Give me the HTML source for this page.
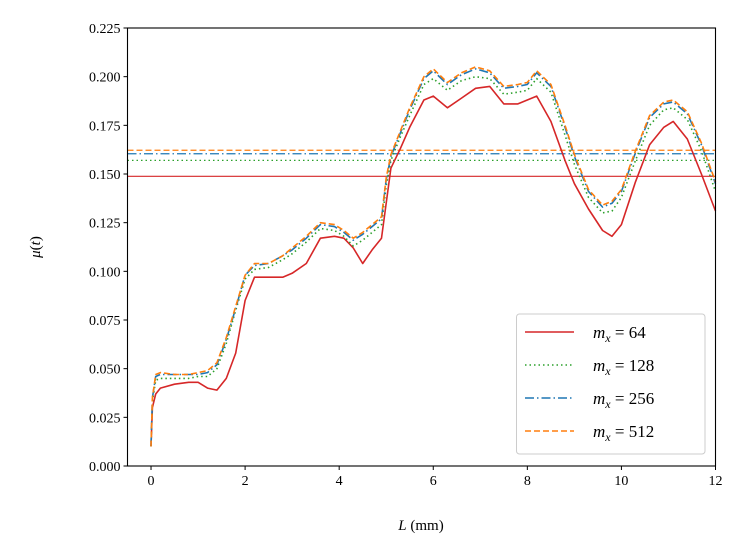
<!DOCTYPE html>
<html><head><meta charset="utf-8"><style>
html,body{margin:0;padding:0;background:#fff;}
svg{display:block;font-family:"Liberation Serif",serif;}
</style></head><body>
<svg id="chart" width="748" height="559" viewBox="0 0 748 559" xmlns="http://www.w3.org/2000/svg">
<g id="marks"></g>
<g id="axes"></g>
</svg>
<script>
const xs = [0,0.03,0.1,0.2,0.5,0.8,1.0,1.2,1.4,1.6,1.8,2.0,2.2,2.5,2.8,3.0,3.3,3.6,3.9,4.1,4.3,4.5,4.7,4.9,5.0,5.1,5.3,5.5,5.8,6.0,6.3,6.6,6.9,7.2,7.5,7.8,8.0,8.2,8.5,8.8,9.0,9.3,9.6,9.8,10.0,10.3,10.6,10.9,11.1,11.4,11.7,12.0];
const y64 = [0.010,0.030,0.037,0.040,0.042,0.043,0.043,0.040,0.039,0.045,0.058,0.085,0.097,0.097,0.097,0.099,0.104,0.117,0.118,0.117,0.112,0.104,0.111,0.117,0.135,0.153,0.163,0.174,0.188,0.190,0.184,0.189,0.194,0.195,0.186,0.186,0.188,0.190,0.177,0.157,0.145,0.132,0.121,0.118,0.124,0.146,0.165,0.174,0.177,0.168,0.150,0.131];
const y128 = [0.010,0.033,0.044,0.045,0.045,0.045,0.046,0.046,0.050,0.063,0.080,0.096,0.101,0.102,0.106,0.109,0.115,0.122,0.121,0.118,0.113,0.116,0.120,0.124,0.144,0.157,0.169,0.180,0.196,0.199,0.193,0.198,0.200,0.199,0.191,0.192,0.193,0.199,0.192,0.170,0.155,0.138,0.130,0.131,0.138,0.157,0.175,0.183,0.184,0.178,0.162,0.141];
const y256 = [0.010,0.035,0.046,0.047,0.047,0.047,0.047,0.048,0.052,0.065,0.081,0.098,0.103,0.104,0.108,0.111,0.117,0.124,0.123,0.120,0.116,0.119,0.123,0.127,0.147,0.159,0.171,0.183,0.199,0.203,0.196,0.201,0.204,0.202,0.194,0.195,0.196,0.202,0.195,0.174,0.159,0.141,0.133,0.135,0.141,0.161,0.179,0.186,0.187,0.181,0.165,0.145];
const y512 = [0.010,0.035,0.047,0.048,0.047,0.047,0.048,0.049,0.053,0.066,0.082,0.098,0.104,0.104,0.108,0.112,0.118,0.125,0.124,0.121,0.117,0.120,0.124,0.128,0.148,0.160,0.172,0.184,0.200,0.204,0.197,0.202,0.205,0.203,0.195,0.196,0.197,0.203,0.196,0.175,0.160,0.142,0.134,0.136,0.142,0.162,0.180,0.187,0.188,0.182,0.166,0.146];
const means = [0.1488,0.1570,0.1604,0.1622];
const labels = ["64","128","256","512"];
const xTicks = [0,2,4,6,8,10,12];
const yTicks = [0,0.025,0.05,0.075,0.1,0.125,0.15,0.175,0.2,0.225];

const L=127.5,R=715.5,T=28,B=466;
const xmin=-0.5,xmax=12,ymin=0,ymax=0.225;
const sx=v=>L+(v-xmin)/(xmax-xmin)*(R-L);
const sy=v=>B-(v-ymin)/(ymax-ymin)*(B-T);
const NS="http://www.w3.org/2000/svg";
const marks=document.getElementById('marks'), axes=document.getElementById('axes');
function mk(tag,attrs,parent){const e=document.createElementNS(NS,tag);for(const k in attrs)e.setAttribute(k,attrs[k]);parent.appendChild(e);return e;}
const styles=[
 {c:"#d62728",d:""},
 {c:"#2ca02c",d:"1.5,3"},
 {c:"#1f77b4",d:"9,3,1.5,3"},
 {c:"#ff7f0e",d:"6,3"}];
const series=[y64,y128,y256,y512];
const names=['series-mx-64','series-mx-128','series-mx-256','series-mx-512'];
const mnames=['mean-line-mx-64','mean-line-mx-128','mean-line-mx-256','mean-line-mx-512'];
series.forEach((ys,i)=>{
  const hl=mk('line',{x1:L,x2:R,y1:sy(means[i]),y2:sy(means[i]),stroke:styles[i].c,'stroke-width':1.2,'stroke-dasharray':styles[i].d},marks);
  
  
});
series.forEach((ys,i)=>{
  const pts=xs.map((x,j)=>sx(x).toFixed(1)+','+sy(ys[j]).toFixed(1)).join(' ');
  const p=mk('polyline',{points:pts,fill:'none',stroke:styles[i].c,'stroke-width':1.6,'stroke-dasharray':styles[i].d,'stroke-linejoin':'round'},marks);
  
  
});
mk('rect',{x:L,y:T,width:R-L,height:B-T,fill:'none',stroke:'#000','stroke-width':1.1},axes);
xTicks.forEach(t=>{
  mk('line',{x1:sx(t),x2:sx(t),y1:B,y2:B+4,stroke:'#000','stroke-width':1},axes);
  const tx=mk('text',{x:sx(t),y:B+19,'text-anchor':'middle','font-size':14},axes);
  tx.textContent=t;
  
  
});
yTicks.forEach(t=>{
  mk('line',{x1:L-4,x2:L,y1:sy(t),y2:sy(t),stroke:'#000','stroke-width':1},axes);
  const tx=mk('text',{x:L-7,y:sy(t)+5,'text-anchor':'end','font-size':14},axes);
  tx.textContent=t.toFixed(3);
  
  
});
const xt=mk('text',{x:421,y:530,'text-anchor':'middle','font-size':15},axes);
xt.innerHTML='<tspan font-style="italic">L</tspan> (mm)';


const yt=mk('text',{x:0,y:0,'text-anchor':'middle','font-size':15,transform:'translate(40,247) rotate(-90)'},axes);
yt.innerHTML='<tspan font-style="italic">μ</tspan>(<tspan font-style="italic">t</tspan>)';


const lg=mk('g',{},axes);


mk('rect',{x:516.5,y:314,width:188.5,height:140,rx:3,fill:'#fff','fill-opacity':0.85,stroke:'#ccc','stroke-width':1},lg);
const ly=[332,365,398,431];
labels.forEach((lab,i)=>{
  const ln=mk('line',{x1:525,x2:574,y1:ly[i],y2:ly[i],stroke:styles[i].c,'stroke-width':1.6,'stroke-dasharray':styles[i].d},lg);
  
  
  const tx=mk('text',{x:593,y:ly[i]+6,'font-size':17},lg);
  tx.innerHTML='<tspan font-style="italic">m</tspan><tspan font-style="italic" font-size="12" dy="4">x</tspan><tspan dy="-4"> = '+lab+'</tspan>';
  
  
});
</script>
</body></html>
